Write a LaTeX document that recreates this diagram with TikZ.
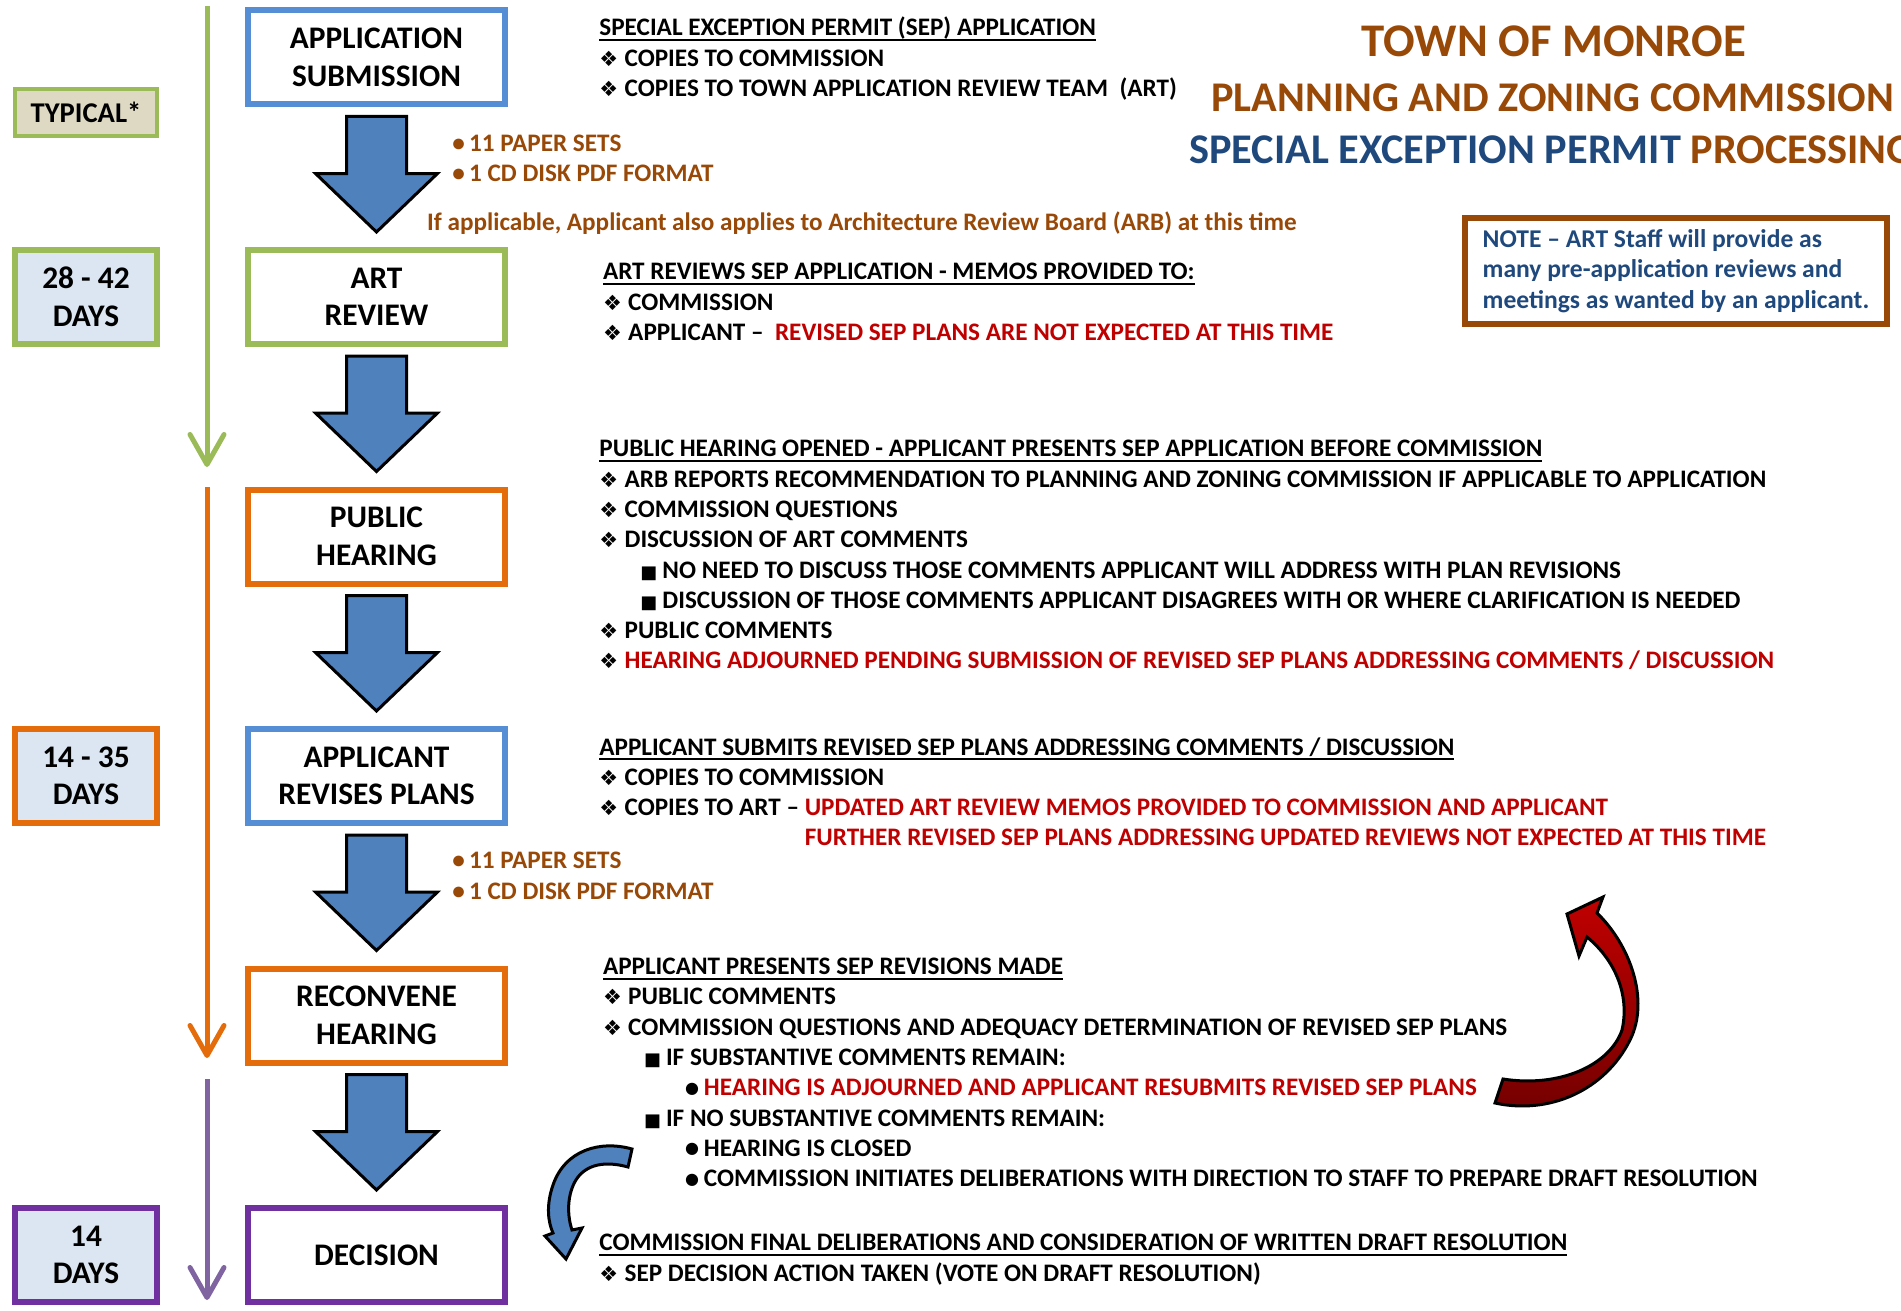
\documentclass[tikz,border=0pt]{standalone}
\usepackage{fontspec}
\setmainfont{Carlito}
\newfontfamily\dejavu{DejaVu Sans}
\usetikzlibrary{positioning, calc, arrows.meta}

\definecolor{cblue}{HTML}{558ED5}
\definecolor{cgreen}{HTML}{9BBB59}
\definecolor{corange}{HTML}{E46C0A}
\definecolor{cpurple}{HTML}{7030A0}
\definecolor{clilac}{HTML}{8064A2}
\definecolor{cbrown}{HTML}{984807}
\definecolor{cnavy}{HTML}{1F497D}
\definecolor{cred}{HTML}{C00000}
\definecolor{carrow}{HTML}{4F81BD}
\definecolor{ctan}{HTML}{DDD9C3}
\definecolor{cpale}{HTML}{DCE6F2}

\newcommand\bigtxt{\fontsize{15.7}{18.8}\selectfont\bfseries}
\newcommand\smalltxt{\fontsize{12.6}{15.15}\selectfont\bfseries}
\newcommand\titletxt{\fontsize{21.15}{25}\selectfont\bfseries}
\newcommand\notetxt{\fontsize{12.8}{15.15}\selectfont\bfseries}
\newcommand\dia{{\dejavu\fontsize{10.5}{10}\selectfont ❖}\hspace{3.2pt}}
\newcommand\sq{{\dejavu\fontsize{9}{9}\selectfont ■}\hspace{2.5pt}}
\newcommand\rnd{\raisebox{1.2pt}{\dejavu\fontsize{8}{8}\selectfont ●}\hspace{2.5pt}}
\newcommand\uline[1]{\setbox0\hbox{#1}\rlap{\rule[-2.5pt]{\wd0}{1pt}}\box0}

\tikzstyle{box}=[draw, line width=3pt, minimum width=128.5pt, minimum height=47pt, align=center, font=\bigtxt]
\tikzstyle{days}=[draw, line width=3pt, fill=cpale, minimum width=71pt, minimum height=47pt, align=center, font=\bigtxt]
\tikzstyle{txt}=[anchor=base west, align=left, inner sep=0pt, font=\smalltxt]
\tikzstyle{blk}=[draw=black, line width=1.5pt, fill=carrow, line join=miter]
\tikzstyle{timeline}=[line width=2.5pt, -{Straight Barb[length=15pt,width=17pt,round]}]

\begin{document}
\begin{tikzpicture}[x=0.5pt, y=-0.5pt, node distance=69.75pt]
    \useasboundingbox (0,0) rectangle (1901,1311);

    % steps
    \node [box, draw=cblue] (sub) at (376.5,57.5) {APPLICATION\\SUBMISSION};
    \node [box, draw=cgreen, below=of sub] (art) {ART\\REVIEW};
    \node [box, draw=corange, below=of art] (pub) {PUBLIC\\HEARING};
    \node [box, draw=cblue, below=of pub] (rev) {APPLICANT\\REVISES PLANS};
    \node [box, draw=corange, below=of rev] (rec) {RECONVENE\\HEARING};
    \node [box, draw=cpurple, below=of rec] (dec) {DECISION};

    \foreach \a/\b in {sub/art, art/pub, pub/rev, rev/rec, rec/dec}
        \draw[blk] ($(\a.south)+(-30,9)$) -- ($(\a.south)+(30,9)$) -- ($(\a.south)+(30,66)$)
            -- ($(\a.south)+(61,66)$) -- ($(\b.north)+(0,-15)$) -- ($(\a.south)+(-61,66)$)
            -- ($(\a.south)+(-30,66)$) -- cycle;

    % time
    \node [draw=cgreen, line width=1.8pt, fill=ctan, minimum width=71.2pt, minimum height=23.7pt, font=\fontsize{14.3}{15}\selectfont\bfseries] (typ) at (86,112.5) {TYPICAL*};
    \node [days, draw=cgreen, left=42.5pt of art] (d1) {28 - 42\\DAYS};
    \node [days, draw=corange, left=42.5pt of rev] (d2) {14 - 35\\DAYS};
    \node [days, draw=cpurple, left=42.5pt of dec] (d3) {14\\DAYS};

    \coordinate (g1) at (207,6);
    \coordinate (g2) at (207,467);
    \coordinate (o1) at (207,487);
    \coordinate (o2) at (207,1058);
    \coordinate (p1) at (207,1079);
    \coordinate (p2) at (207,1300);
    \draw[timeline, cgreen] (g1) -- (g2);
    \draw[timeline, corange] (o1) -- (o2);
    \draw[timeline, clilac] (p1) -- (p2);

    % title
    \node [anchor=base, font=\fontsize{23.4}{25}\selectfont\bfseries, text=cbrown, inner sep=0pt] (town) at (1554,57) {TOWN OF MONROE};
    \node [anchor=base west, font=\titletxt, text=cbrown, inner sep=0pt] (pzc) at (1211,112) {PLANNING AND ZONING COMMISSION};
    \node [anchor=base west, font=\titletxt, text=cbrown, inner sep=0pt] (sepp) at (1189,163) {\textcolor{cnavy}{SPECIAL EXCEPTION PERMIT} PROCESSING};

    \node [draw=cbrown, line width=3pt, minimum width=211pt, minimum height=53.4pt, align=left, text=cnavy, font=\notetxt] (note) at (1676,271)
        {NOTE – ART Staff will provide as\\many pre-application reviews and\\meetings as wanted by an applicant.};

    % notes (anchored at the last line)
    \node [txt] (t1) at (599,96.6) {\uline{SPECIAL EXCEPTION PERMIT (SEP) APPLICATION}\\
        \dia COPIES TO COMMISSION\\
        \dia COPIES TO TOWN APPLICATION REVIEW TEAM~~(ART)};
    \node [txt, text=cbrown] (c1) at (452,181.5) {•\,11 PAPER SETS\\•\,1 CD DISK PDF FORMAT};
    \node [txt, text=cbrown] (arb) at (426.8,230) {If applicable, Applicant also applies to Architecture Review Board (ARB) at this time};
    \node [txt] (t2) at (602.6,340.3) {\uline{ART REVIEWS SEP APPLICATION - MEMOS PROVIDED TO:}\\
        \dia COMMISSION\\
        \dia APPLICANT –~~\textcolor{cred}{REVISED SEP PLANS ARE NOT EXPECTED AT THIS TIME}};
    \node [txt] (t3) at (599,668.9) {\uline{PUBLIC HEARING OPENED - APPLICANT PRESENTS SEP APPLICATION BEFORE COMMISSION}\\
        \dia ARB REPORTS RECOMMENDATION TO PLANNING AND ZONING COMMISSION IF APPLICABLE TO APPLICATION\\
        \dia COMMISSION QUESTIONS\\
        \dia DISCUSSION OF ART COMMENTS\\
        \hspace*{20.5pt}\sq NO NEED TO DISCUSS THOSE COMMENTS APPLICANT WILL ADDRESS WITH PLAN REVISIONS\\
        \hspace*{20.5pt}\sq DISCUSSION OF THOSE COMMENTS APPLICANT DISAGREES WITH OR WHERE CLARIFICATION IS NEEDED\\
        \dia PUBLIC COMMENTS\\
        \dia \textcolor{cred}{HEARING ADJOURNED PENDING SUBMISSION OF REVISED SEP PLANS ADDRESSING COMMENTS / DISCUSSION}};
    \node [txt] (t4) at (599,845.9) {\uline{APPLICANT SUBMITS REVISED SEP PLANS ADDRESSING COMMENTS / DISCUSSION}\\
        \dia COPIES TO COMMISSION\\
        \dia COPIES TO ART – \textcolor{cred}{UPDATED ART REVIEW MEMOS PROVIDED TO COMMISSION AND APPLICANT}\\
        \phantom{\dia COPIES TO ART – }\textcolor{cred}{FURTHER REVISED SEP PLANS ADDRESSING UPDATED REVIEWS NOT EXPECTED AT THIS TIME}};
    \node [txt, text=cbrown] (c2) at (452,899.2) {•\,11 PAPER SETS\\•\,1 CD DISK PDF FORMAT};
    \node [txt] (t5) at (602.6,1186.6) {\uline{APPLICANT PRESENTS SEP REVISIONS MADE}\\
        \dia PUBLIC COMMENTS\\
        \dia COMMISSION QUESTIONS AND ADEQUACY DETERMINATION OF REVISED SEP PLANS\\
        \hspace*{20.5pt}\sq IF SUBSTANTIVE COMMENTS REMAIN:\\
        \hspace*{41pt}\rnd \textcolor{cred}{HEARING IS ADJOURNED AND APPLICANT RESUBMITS REVISED SEP PLANS}\\
        \hspace*{20.5pt}\sq IF NO SUBSTANTIVE COMMENTS REMAIN:\\
        \hspace*{41pt}\rnd HEARING IS CLOSED\\
        \hspace*{41pt}\rnd COMMISSION INITIATES DELIBERATIONS WITH DIRECTION TO STAFF TO PREPARE DRAFT RESOLUTION};
    \node [txt] (t6) at (599,1281.1) {\uline{COMMISSION FINAL DELIBERATIONS AND CONSIDERATION OF WRITTEN DRAFT RESOLUTION}\\
        \dia SEP DECISION ACTION TAKEN (VOTE ON DRAFT RESOLUTION)};

    % loop back / forward
    \draw[line width=1.5pt, top color=cred, bottom color=cred!60!black, line join=miter]
        (1597,913) .. controls (1630,945) and (1650,1000) .. (1630,1040)
        .. controls (1605,1090) and (1550,1115) .. (1495,1103) -- (1503,1079)
        .. controls (1560,1088) and (1610,1065) .. (1622,1030)
        .. controls (1630,995) and (1615,960) .. (1587,937)
        -- (1579,956) -- (1567,914) -- (1603,897) -- cycle;
    \draw[line width=1.5pt, fill=carrow, line join=miter]
        (632,1149) .. controls (600,1140) and (565,1150) .. (553,1185)
        .. controls (546,1205) and (548,1222) .. (553,1233) -- (545,1236) -- (566,1259) -- (582,1228) -- (572,1230)
        .. controls (566,1212) and (568,1190) .. (578,1177)
        .. controls (590,1162) and (610,1162) .. (628,1167) -- cycle;
\end{tikzpicture}
\end{document}
